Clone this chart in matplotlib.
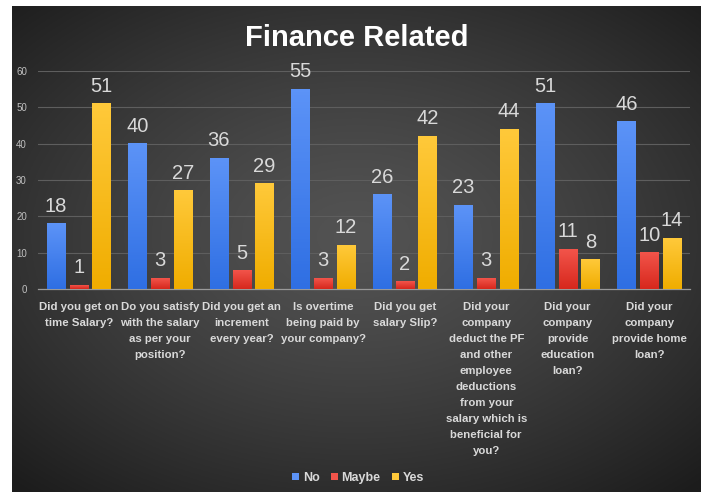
import numpy as np
import matplotlib
matplotlib.use("Agg")
from matplotlib import pyplot as plt
from matplotlib.colors import LinearSegmentedColormap
from matplotlib.patches import Patch

questions = [
    "Did you get on\ntime Salary?",
    "Do you satisfy\nwith the salary\nas per your\nposition?",
    "Did you get an\nincrement\nevery year?",
    "Is overtime\nbeing paid by\nyour company?",
    "Did you get\nsalary Slip?",
    "Did your\ncompany\ndeduct the PF\nand other\nemployee\ndeductions\nfrom your\nsalary which is\nbeneficial for\nyou?",
    "Did your\ncompany\nprovide\neducation\nloan?",
    "Did your\ncompany\nprovide home\nloan?",
]
series_names = ["No", "Maybe", "Yes"]
no_votes = [18, 40, 36, 55, 26, 23, 51, 46]
maybe_votes = [1, 3, 5, 3, 2, 3, 11, 10]
yes_votes = [51, 27, 29, 12, 42, 44, 8, 14]
y_ticks = [0, 10, 20, 30, 40, 50, 60]

# (top colour, bottom colour) for each series
shades = [("#5c93f7", "#2f6fe3"), ("#f2544a", "#d7281d"), ("#ffc93a", "#f0ad00")]
font = ["Liberation Sans", "DejaVu Sans"]

W, H = 705, 493
fig = plt.figure(figsize=(W / 100, H / 100), dpi=100, facecolor="white")

# dark panel with a radial gradient
px0, px1, py0, py1 = 12, 701, 6, 492
bg = fig.add_axes([px0 / W, 1 - py1 / H, (px1 - px0) / W, (py1 - py0) / H])
gx, gy = np.meshgrid(np.linspace(-1, 1, 400), np.linspace(-1, 1, 300))
r = np.clip(np.sqrt((gx / 1.05) ** 2 + ((gy + 0.05) / 1.0) ** 2), 0, 1.4)
light, dark = 0x53, 0x1c
vals = (light - (light - dark) * (r / 1.4) ** 1.3) / 255.0
bg.imshow(np.dstack([vals] * 3), aspect="auto", extent=[0, 1, 0, 1])
bg.set_axis_off()

ax = fig.add_axes([38 / W, 1 - 289 / H, (690 - 38) / W, (289 - 71) / H])
ax.patch.set_alpha(0)

x = np.arange(len(questions))
bw = 0.225
step = 0.28
for k, (vals_k, (c_top, c_bot)) in enumerate(zip([no_votes, maybe_votes, yes_votes], shades)):
    cmap = LinearSegmentedColormap.from_list("s%d" % k, [c_bot, c_top])
    bars = ax.bar(x + (k - 1) * step, vals_k, bw, color=c_top, zorder=2)
    for b, v in zip(bars, vals_k):
        ax.imshow(np.linspace(0, 1, 64).reshape(-1, 1), cmap=cmap, origin="lower",
                  extent=[b.get_x(), b.get_x() + b.get_width(), 0, b.get_height()],
                  aspect="auto", zorder=3)
        ax.text(b.get_x() + b.get_width() / 2, v + 2.2, str(v), ha="center", va="bottom",
                color="#d9d9d9", fontsize=14.5, family=font, zorder=4)

ax.set_xlim(-0.5, len(questions) - 0.5)
ax.set_ylim(0, 60)
ax.set_yticks(y_ticks)
ax.set_yticklabels([str(t) for t in y_ticks], color="#bfbfbf", fontsize=7, family=font)
ax.yaxis.grid(True, color="#5e5e5e", lw=0.8, zorder=0)
ax.set_axisbelow(True)
ax.tick_params(axis="y", length=0, pad=8)
ax.tick_params(axis="x", length=0, pad=9)
ax.set_xticks(x)
ax.set_xticklabels(questions, color="#d9d9d9", fontsize=8.2, fontweight="bold",
                   family=font, linespacing=1.76, va="top")
for s in ["top", "right", "left"]:
    ax.spines[s].set_visible(False)
ax.spines["bottom"].set_color("#9a9a9a")
ax.spines["bottom"].set_linewidth(0.9)

fig.text(357 / W, 1 - 38 / H, "Finance Related", ha="center", va="center", color="white",
         fontsize=21, fontweight="bold", family=font)

handles = [Patch(facecolor=c[0], edgecolor="none") for c in shades]
leg = fig.legend(handles, series_names, loc="center", bbox_to_anchor=(358 / W, 1 - 478 / H),
                 ncol=3, frameon=False, handlelength=0.55, handleheight=0.55, handletextpad=0.3,
                 columnspacing=0.9, prop={"family": font, "weight": "bold", "size": 9})
for t in leg.get_texts():
    t.set_color("#d9d9d9")

fig.savefig("out.png", dpi=100, facecolor="white")
